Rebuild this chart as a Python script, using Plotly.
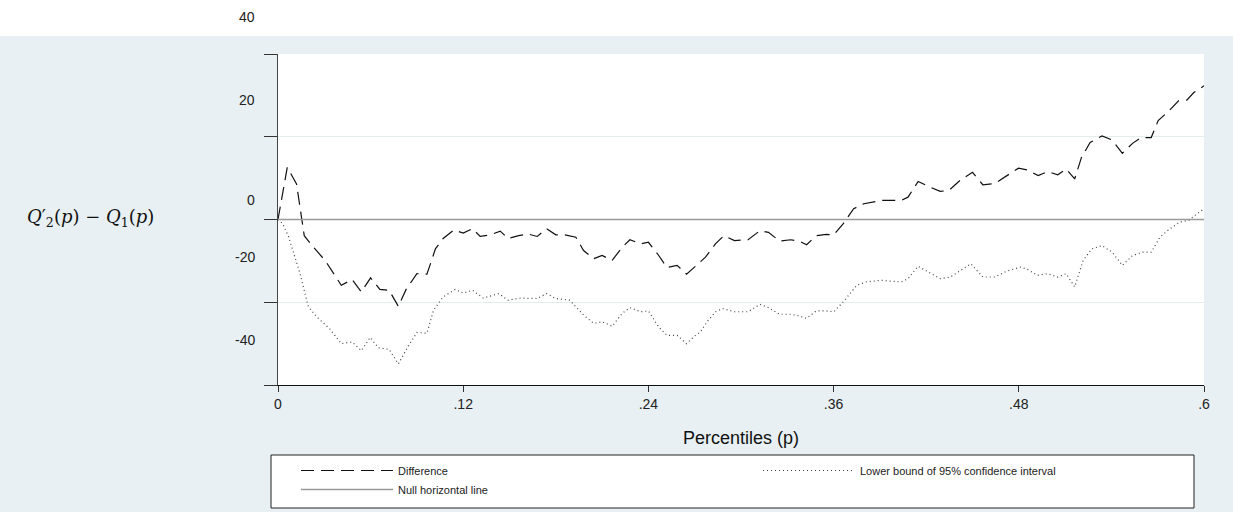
import plotly.graph_objects as go

# ---------------- data ----------------
diff_p = [0, 0.006, 0.012, 0.017, 0.023, 0.0305, 0.041, 0.048, 0.054, 0.060, 0.066, 0.072,
          0.078, 0.083, 0.090, 0.0965, 0.102, 0.107, 0.114, 0.120, 0.126, 0.131, 0.1375,
          0.144, 0.149, 0.156, 0.162, 0.168, 0.174, 0.180, 0.186, 0.193, 0.198, 0.2045,
          0.210, 0.2165, 0.223, 0.228, 0.235, 0.240, 0.2467, 0.252, 0.2586, 0.2647, 0.2705,
          0.277, 0.2834, 0.289, 0.2958, 0.3046, 0.3123, 0.3178, 0.3249, 0.3322, 0.3377,
          0.3425, 0.3487, 0.3553, 0.3601, 0.3663, 0.373, 0.3796, 0.3906, 0.4038, 0.4082,
          0.4148, 0.4214, 0.4291, 0.4346, 0.4424, 0.45, 0.4567, 0.4644, 0.4721, 0.4798,
          0.4854, 0.4926, 0.4986, 0.5052, 0.5107, 0.5162, 0.5206, 0.5262, 0.5339, 0.5405,
          0.5471, 0.5537, 0.5592, 0.5658, 0.5703, 0.5769, 0.5835, 0.589, 0.5934, 0.6]
diff_v = [0, 12.6, 8.6, -3.9, -6.7, -9.9, -15.9, -14.5, -17.5, -14.1, -16.9, -17.1,
          -21.0, -16.9, -13.1, -13.2, -7.1, -4.6, -2.5, -3.3, -2.2, -4.1, -3.7,
          -2.8, -4.6, -3.9, -3.5, -4.1, -2.2, -3.7, -3.7, -4.3, -7.5, -9.5,
          -8.7, -9.9, -6.7, -4.9, -5.9, -5.5, -8.7, -11.6, -11.1, -13.2, -11.3,
          -9.1, -5.9, -3.9, -5.1, -4.9, -2.7, -3.1, -5.2, -4.9, -5.2,
          -6.1, -3.9, -3.6, -3.7, -1.0, 2.6, 3.8, 4.6, 4.6, 5.4,
          9.2, 8.0, 6.8, 7.0, 9.6, 11.4, 8.4, 8.7, 10.6, 12.4,
          12.0, 10.6, 11.6, 10.8, 12.2, 9.8, 15.0, 18.6, 20.2, 19.2,
          16.0, 18.4, 19.8, 19.8, 23.9, 26.1, 28.7, 28.9, 30.7, 32.3]

low_p = [0, 0.003, 0.0067, 0.011, 0.0143, 0.0175, 0.0197, 0.025, 0.0337, 0.041, 0.048,
         0.054, 0.0597, 0.065, 0.072, 0.078, 0.0835, 0.090, 0.0965, 0.1008, 0.107, 0.1148,
         0.120, 0.126, 0.133, 0.143, 0.149, 0.157, 0.168, 0.174, 0.180, 0.189, 0.198,
         0.2045, 0.210, 0.2165, 0.223, 0.228, 0.235, 0.240, 0.2467, 0.252, 0.2586, 0.2647,
         0.2705, 0.2737, 0.278, 0.2836, 0.288, 0.2958, 0.3046, 0.3123, 0.3178, 0.3249,
         0.3322, 0.3377, 0.3425, 0.3487, 0.3553, 0.3601, 0.3663, 0.375, 0.381, 0.3906,
         0.4038, 0.4082, 0.4148, 0.4214, 0.4291, 0.4357, 0.4424, 0.449, 0.4567, 0.4644,
         0.4721, 0.4809, 0.4854, 0.492, 0.4986, 0.5052, 0.5107, 0.5162, 0.5217, 0.5273,
         0.5339, 0.5405, 0.5471, 0.5537, 0.5603, 0.5658, 0.5714, 0.578, 0.5846, 0.5901,
         0.5945, 0.6]
low_v = [0, -1.0, -4.0, -9.1, -13.1, -17.9, -21.1, -23.5, -26.5, -30.0, -29.6,
         -31.7, -28.5, -31.0, -31.4, -34.9, -31.2, -27.3, -27.5, -21.9, -18.7, -16.9,
         -17.8, -17.1, -19.0, -17.9, -19.5, -19.0, -19.1, -17.9, -19.1, -19.5, -23.1,
         -25.1, -24.7, -25.8, -22.7, -21.3, -22.3, -22.1, -26.0, -28.0, -28.0, -30.0,
         -28.0, -27.2, -24.7, -22.3, -21.5, -22.3, -22.3, -20.5, -21.3, -22.9,
         -22.9, -23.3, -23.9, -22.1, -22.1, -22.3, -19.9, -15.9, -15.1, -14.7,
         -15.1, -14.3, -11.3, -12.7, -14.3, -13.9, -12.3, -10.7, -13.9, -13.9,
         -12.5, -11.5, -12.0, -13.5, -13.1, -13.9, -13.1, -16.3, -9.9, -7.1,
         -6.3, -7.9, -11.1, -8.7, -7.9, -7.9, -4.3, -2.2, -0.6, -0.2,
         1.1, 2.6]

null_p = [0, 0.6]
null_v = [0, 0]

xtick_vals = [0, 0.12, 0.24, 0.36, 0.48, 0.6]
xtick_text = ["0", ".12", ".24", ".36", ".48", ".6"]
ytick_vals = [40, 20, 0, -20, -40]
ytick_text = ["40", "20", "0", "-20", "-40"]

# ---------------- layout geometry (pixels) ----------------
W, H = 1233, 512
L, R, T, B = 278, 1204, 54, 385
PW, PH = R - L, B - T


def px(x):
    return (x - L) / PW


def py(y):
    return (B - y) / PH


BG = "#e8f0f3"
FONT = "Liberation Sans, Arial, sans-serif"

fig = go.Figure()
fig.add_trace(go.Scatter(x=diff_p, y=diff_v, mode="lines", name="Difference",
                         line=dict(color="#111111", width=1.2, dash="13px,7px")))
fig.add_trace(go.Scatter(x=low_p, y=low_v, mode="lines",
                         name="Lower bound of 95% confidence interval",
                         line=dict(color="#444444", width=1.2, dash="1px,3px")))
fig.add_trace(go.Scatter(x=null_p, y=null_v, mode="lines", name="Null horizontal line",
                         line=dict(color="#9a9a9a", width=1.3)))

shapes = [
    # white strip at the very top
    dict(type="rect", xref="paper", yref="paper", x0=px(-10), x1=px(W + 10),
         y0=py(36), y1=py(-10), fillcolor="white", line=dict(width=0), layer="below"),
    # legend box
    dict(type="rect", xref="paper", yref="paper", x0=px(271), x1=px(1194),
         y0=py(508), y1=py(455), fillcolor="white",
         line=dict(color="#222222", width=1), layer="below"),
]

annotations = []
ylabel_px = [17, 100, 200, 257, 340]
for txt, ypix in zip(ytick_text, ylabel_px):
    annotations.append(dict(text=txt, xref="paper", yref="paper", x=px(257), y=py(ypix),
                            xanchor="right", yanchor="middle", showarrow=False,
                            font=dict(family=FONT, size=14, color="#222222")))
annotations.append(dict(text="Percentiles (p)", xref="paper", yref="paper",
                        x=px(741), y=py(438), xanchor="center", yanchor="middle",
                        showarrow=False, font=dict(family=FONT, size=18, color="#111111")))
annotations.append(dict(text="<i>Q</i>′<sub>2</sub>(<i>p</i>) − <i>Q</i><sub>1</sub>(<i>p</i>)",
                        xref="paper", yref="paper", x=px(25), y=py(218),
                        xanchor="left", yanchor="middle", showarrow=False,
                        font=dict(family="DejaVu Serif, Liberation Serif, serif", size=18,
                                  color="#111111")))

LEG_BW = 19
fig.update_layout(
    width=W, height=H,
    margin=dict(l=L, r=W - R, t=T, b=H - B, autoexpand=False),
    paper_bgcolor=BG, plot_bgcolor="white",
    font=dict(family=FONT, size=14, color="#222222"),
    shapes=shapes, annotations=annotations,
    showlegend=True,
    legend=dict(orientation="h", x=px(277), y=py(470 - LEG_BW - 14),
                xanchor="left", yanchor="top",
                bgcolor="rgba(0,0,0,0)", bordercolor="rgba(0,0,0,0)", borderwidth=LEG_BW,
                itemwidth=92, entrywidth=355, entrywidthmode="pixels",
                font=dict(family=FONT, size=11, color="#222222")),
    xaxis=dict(range=[0, 0.6], tickmode="array", tickvals=xtick_vals, ticktext=xtick_text,
               showgrid=False, zeroline=False, showline=True, linecolor="#111111",
               linewidth=1, ticks="outside", ticklen=6, tickcolor="#333333",
               tickfont=dict(family=FONT, size=14, color="#222222")),
    yaxis=dict(range=[-40, 40], tickmode="array", tickvals=ytick_vals, ticktext=ytick_text,
               showticklabels=False, showgrid=True, gridcolor="#e4eded", gridwidth=1,
               zeroline=False, showline=True, linecolor="#444444", linewidth=1.3,
               ticks="outside", ticklen=13, tickcolor="#333333"),
)

fig.write_html("out.html", config={"displayModeBar": False},
               post_script="document.body.style.margin='0';document.body.style.padding='0';")
